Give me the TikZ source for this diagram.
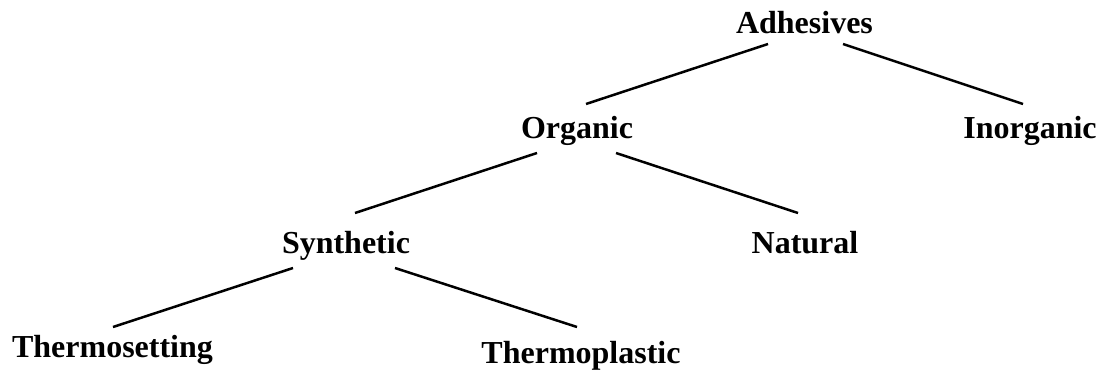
\documentclass[tikz,border=0pt]{standalone}
\usepackage{fontspec}
\setmainfont{Liberation Serif}
\usetikzlibrary{calc}
\newcommand{\drawbranch}{\draw[line width=1.25pt]}
\tikzset{cls/.style={anchor=base, inner sep=0pt, font=\fontsize{16}{19}\selectfont\bfseries}}

\begin{document}
\begin{tikzpicture}[x=0.5pt,y=-0.5pt]
\useasboundingbox (0,0) rectangle (1099,370);
% levels of the tree
\node[cls] (adh) at (804.5,33) {Adhesives};
\node[cls] (org) at (577,138) {Organic};
\node[cls] (inorg) at (1030,138) {Inorganic};
\node[cls] (syn) at (346,253) {Synthetic};
\node[cls] (nat) at (805,253) {Natural};
\node[cls] (tset) at (112.5,357) {Thermosetting};
\node[cls] (tplas) at (581,363) {Thermoplastic};
% branches
\drawbranch ($(adh.base)+(-36.5,11)$)--($(org.base)+(9,-34)$);
\drawbranch ($(adh.base)+(38.5,11)$)--($(inorg.base)+(-7,-34)$);
\drawbranch ($(org.base)+(-40,15)$)--($(syn.base)+(9,-40)$);
\drawbranch ($(org.base)+(39,15)$)--($(nat.base)+(-7,-40)$);
\drawbranch ($(syn.base)+(-53,15)$)--($(tset.base)+(0.5,-30)$);
\drawbranch ($(syn.base)+(49,15)$)--($(tplas.base)+(-4,-36)$);
\end{tikzpicture}
\end{document}
